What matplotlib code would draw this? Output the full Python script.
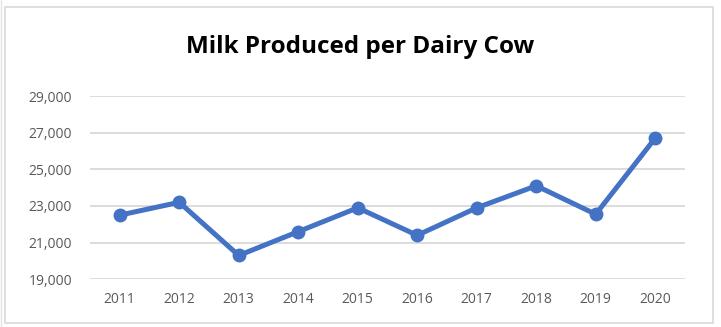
import matplotlib.pyplot as plt
from matplotlib.patches import Rectangle
from matplotlib.ticker import FuncFormatter

# Milk produced per dairy cow, pounds per year
years = ["2011", "2012", "2013", "2014", "2015",
         "2016", "2017", "2018", "2019", "2020"]
milk = [22500, 23200, 20300, 21600, 22900,
        21400, 22900, 24100, 22550, 26700]
y_ticks = [19000, 21000, 23000, 25000, 27000, 29000]

plt.rcParams['font.family'] = ['Open Sans', 'DejaVu Sans']

fig = plt.figure(figsize=(7.21, 3.27), dpi=100)
ax = fig.add_axes([0.1248, 0.1459, 0.8252, 0.5605])

# chart frame
fig.patches.append(Rectangle((5 / 721, 4 / 327), 708 / 721, 316 / 327,
                             transform=fig.transFigure, fill=False,
                             edgecolor='#d9d9d9', linewidth=1.2))
fig.patches.append(Rectangle((1 / 721, 0), 0, 1, transform=fig.transFigure,
                             fill=False, edgecolor='#e4e4e4', linewidth=1.0))

x = range(len(years))
ax.plot(x, milk, color='#4472c4', linewidth=3.6, marker='o',
        markersize=9, solid_capstyle='round', zorder=3)

ax.set_xlim(-0.5, len(years) - 0.5)
ax.set_ylim(19000, 29000)
ax.set_yticks(y_ticks)
ax.yaxis.set_major_formatter(FuncFormatter(lambda v, p: f"{int(v):,}"))
ax.set_xticks(list(x))
ax.set_xticklabels(years)

ax.grid(axis='y', color='#d9d9d9', linewidth=1.3)
ax.set_axisbelow(True)
for s in ['top', 'right', 'left', 'bottom']:
    ax.spines[s].set_visible(False)
ax.tick_params(axis='both', length=0, labelsize=10, colors='#595959')
ax.tick_params(axis='y', pad=13)
ax.tick_params(axis='x', pad=9)

fig.text(0.5, 0.856, "Milk Produced per Dairy Cow", ha='center', va='center',
         fontsize=17.5, fontweight='bold', color='black')

fig.savefig('out.png', dpi=100)
